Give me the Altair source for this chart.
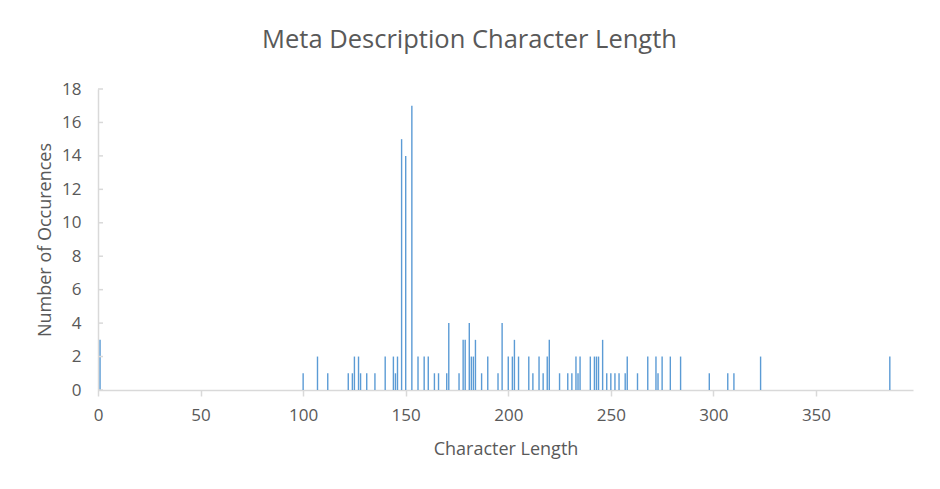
import altair as alt
import pandas as pd

lengths = [1, 100, 107, 112, 122, 124, 125, 127, 128, 131, 135, 140, 144, 145, 146,
           148, 150, 153, 156, 159, 161, 164, 166, 170, 171, 176, 178, 179, 181, 182,
           183, 184, 187, 190, 195, 197, 200, 202, 203, 205, 210, 212, 215, 217, 219,
           220, 225, 229, 231, 233, 234, 235, 240, 242, 243, 244, 246, 248, 250, 252,
           254, 257, 258, 263, 268, 272, 273, 275, 279, 284, 298, 307, 310, 323, 386]
counts = [3, 1, 2, 1, 1, 1, 2, 2, 1, 1, 1, 2, 2, 1, 2,
          15, 14, 17, 2, 2, 2, 1, 1, 1, 4, 1, 3, 3, 4, 2,
          2, 3, 1, 2, 1, 4, 2, 2, 3, 2, 2, 1, 2, 1, 2,
          3, 1, 1, 1, 2, 1, 2, 2, 2, 2, 2, 3, 1, 1, 1,
          1, 1, 2, 1, 2, 2, 1, 2, 2, 2, 1, 1, 1, 2, 2]
y_ticks = [0, 2, 4, 6, 8, 10, 12, 14, 16, 18]
x_ticks = [0, 50, 100, 150, 200, 250, 300, 350]

df = pd.DataFrame({"length": lengths, "count": counts})
tick_df = pd.DataFrame({"t": y_ticks})

FONT = "Open Sans"
TXT = "#595959"
AX = "#D9D9D9"

y_scale = alt.Scale(domain=[0, 18], nice=False, padding=0)
y_axis = alt.Axis(values=y_ticks, title="Number of Occurences", grid=False,
                  domainColor=AX, domainWidth=1.5, ticks=False,
                  labelPadding=17, labelFontSize=17, labelColor=TXT,
                  labelFont=FONT, labelFlush=False, labelOverlap=False,
                  titleFont=FONT, titleFontSize=18, titleColor=TXT,
                  titleFontWeight="normal", titleX=-53, titleY=150.5,
                  titleBaseline="middle", titleAlign="center")

bars = alt.Chart(df).mark_bar(size=1.4, color="#5B9BD5").encode(
    x=alt.X("length:Q",
            scale=alt.Scale(domain=[0, 397.3], nice=False, zero=True, padding=0),
            axis=alt.Axis(values=x_ticks, title="Character Length", grid=False,
                          domainColor=AX, domainWidth=1.5, tickColor=AX, tickWidth=1.5,
                          tickSize=6, labelPadding=11, labelFontSize=17, labelColor=TXT,
                          labelFont=FONT, labelFlush=False, labelOverlap=False,
                          titleFont=FONT, titleFontSize=18, titleColor=TXT,
                          titleFontWeight="normal", titleY=64,
                          titleBaseline="alphabetic")),
    y=alt.Y("count:Q", scale=y_scale, axis=y_axis),
)

yticks = alt.Chart(tick_df).mark_rule(color=AX, strokeWidth=1.5).encode(
    y=alt.Y("t:Q", scale=y_scale, axis=y_axis),
    x=alt.value(0),
    x2=alt.value(5),
)

chart = alt.layer(bars, yticks).properties(
    width=815,
    height=301,
    autosize=alt.AutoSizeParams(type="none"),
    padding={"left": 90, "top": 81, "right": 19, "bottom": 91},
    title=alt.TitleParams("Meta Description Character Length", font=FONT, fontSize=25.5,
                          color=TXT, fontWeight="normal", anchor="middle",
                          frame="group", offset=7, baseline="alphabetic", dx=-36),
).configure_view(stroke=None)

chart.save("out.html", embed_options={"renderer": "svg", "actions": False})
